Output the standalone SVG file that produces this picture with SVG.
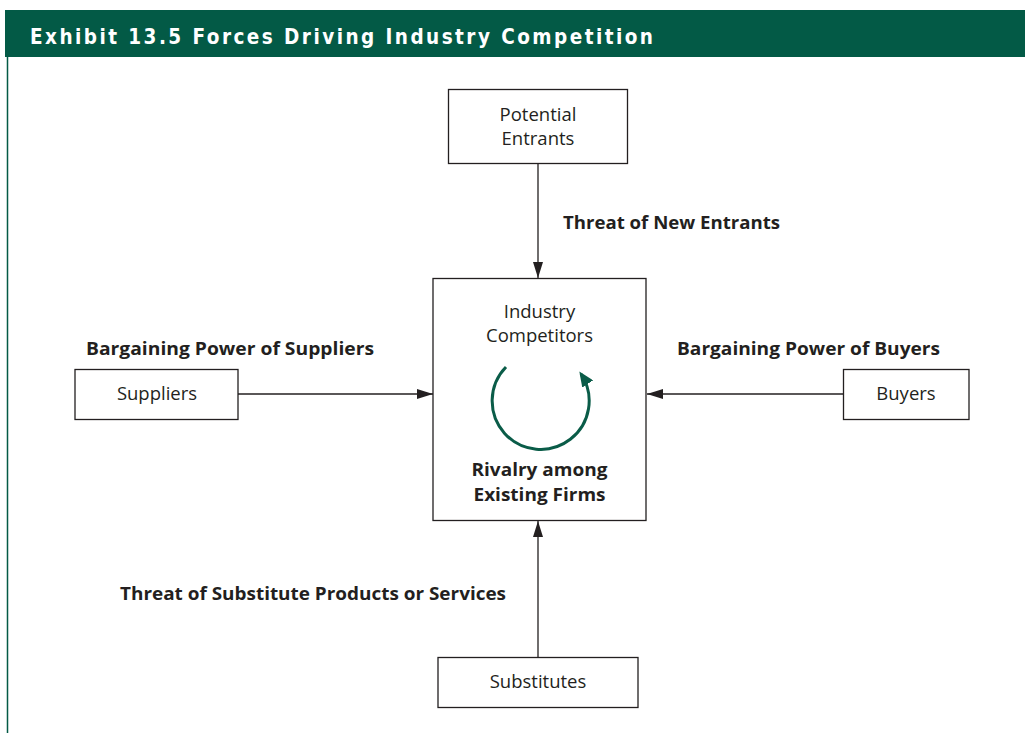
<svg xmlns="http://www.w3.org/2000/svg" width="1025" height="733" viewBox="0 0 1025 733">
<style>
.box{fill:#fff;stroke:#231f20;stroke-width:1.3}
.t{font-family:"Open Sans","Liberation Sans",sans-serif;font-size:18.5px;fill:#231f20;text-anchor:middle}
.b{font-family:"Open Sans","Liberation Sans",sans-serif;font-size:18.5px;font-weight:bold;fill:#231f20}
.ln{stroke:#231f20;stroke-width:1.3;fill:none}
</style>
<defs>
<marker id="ah" viewBox="0 0 16 10" refX="16" refY="5" markerWidth="16" markerHeight="10" markerUnits="userSpaceOnUse" orient="auto">
<path d="M0,0 L16,5 L0,10 Z" fill="#231f20"/>
</marker>
<marker id="gh" viewBox="0 0 15 13" refX="12" refY="6.5" markerWidth="15" markerHeight="13" markerUnits="userSpaceOnUse" orient="auto">
<path d="M0,0 L15,6.5 L0,13 Z" fill="#0a5c48"/>
</marker>
</defs>
<rect x="0" y="0" width="1025" height="733" fill="#fff"/>
<g id="header">
<rect x="5" y="10" width="1020" height="47" fill="#035a46"/>
<line x1="7.5" y1="57" x2="7.5" y2="733" stroke="#035a46" stroke-width="1.5"/>
<text x="30" y="43.5" font-family="'DejaVu Sans Condensed','Liberation Sans',Arial,sans-serif" font-weight="bold" font-size="20.5" fill="#fff" textLength="623" lengthAdjust="spacing">Exhibit 13.5 Forces Driving Industry Competition</text>
</g>
<g id="connectors">
<line class="ln" x1="538" y1="163" x2="538" y2="278" marker-end="url(#ah)"/>
<line class="ln" x1="238" y1="394" x2="433" y2="394" marker-end="url(#ah)"/>
<line class="ln" x1="843" y1="394" x2="647" y2="394" marker-end="url(#ah)"/>
<line class="ln" x1="538" y1="657" x2="538" y2="521" marker-end="url(#ah)"/>
</g>
<g id="potential-entrants">
<rect class="box" x="448.5" y="89.5" width="179" height="74"/>
<text class="t" x="538" y="121">Potential</text>
<text class="t" x="538" y="145">Entrants</text>
</g>
<g id="industry-competitors">
<rect class="box" x="433" y="278.5" width="213" height="242"/>
<text class="t" x="539.5" y="318">Industry</text>
<text class="t" x="539.5" y="342">Competitors</text>
<path d="M506,367 A48.5,48.5 0 1 0 581,374" fill="none" stroke="#0a5c48" stroke-width="3" marker-end="url(#gh)"/>
<text class="b" x="539.5" y="476" text-anchor="middle" textLength="136" lengthAdjust="spacingAndGlyphs">Rivalry among</text>
<text class="b" x="539.5" y="501" text-anchor="middle" textLength="132" lengthAdjust="spacingAndGlyphs">Existing Firms</text>
</g>
<g id="suppliers">
<rect class="box" x="75" y="369.5" width="163" height="50"/>
<text class="t" x="157" y="400">Suppliers</text>
</g>
<g id="buyers">
<rect class="box" x="843.5" y="369.5" width="125.5" height="50"/>
<text class="t" x="906" y="400">Buyers</text>
</g>
<g id="substitutes">
<rect class="box" x="438" y="657.5" width="200" height="50"/>
<text class="t" x="538" y="688">Substitutes</text>
</g>
<g id="labels">
<text class="b" x="563" y="229" textLength="217" lengthAdjust="spacingAndGlyphs">Threat of New Entrants</text>
<text class="b" x="86" y="355" textLength="288" lengthAdjust="spacingAndGlyphs">Bargaining Power of Suppliers</text>
<text class="b" x="677" y="355" textLength="263" lengthAdjust="spacingAndGlyphs">Bargaining Power of Buyers</text>
<text class="b" x="120" y="600" textLength="386" lengthAdjust="spacingAndGlyphs">Threat of Substitute Products or Services</text>
</g>
</svg>
